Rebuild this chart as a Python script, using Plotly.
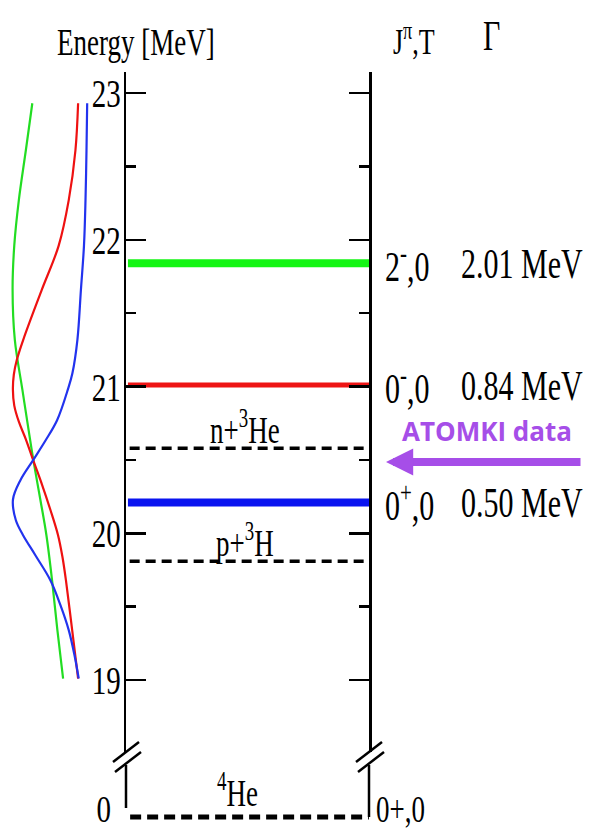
import plotly.graph_objects as go

W, H = 600, 831

# --- level scheme of 4He around the ATOMKI anomaly -------------------------
level_E = [21.84, 21.01, 20.21]          # MeV
level_Jpi = ["2<sup>-</sup>,0", "0<sup>-</sup>,0", "0<sup>+</sup>,0"]
level_Gamma = ["2.01 MeV", "0.84 MeV", "0.50 MeV"]
level_color = ["#14f514", "#ee1515", "#0a14f0"]
level_width = [8, 5, 8]

threshold_E = [20.58, 19.81]
threshold_label = ["n+<sup>3</sup>He", "p+<sup>3</sup>H"]

ground_E = [0.0]
ground_label = "<sup>4</sup>He"
ground_Jpi = "0+,0"

major_ticks = [19, 20, 21, 22, 23]
tick_text = ["19", "20", "21", "22", "23"]
minor_ticks = [19.5, 20.5, 21.5, 22.5]

# --- resonance profiles (arb. units) drawn sideways on the left ------------
green_E = [22.93, 22.61, 22.27, 21.96, 21.66, 21.32, 20.98, 20.67, 20.50, 20.23, 19.99, 19.68, 19.34, 19.01]
green_I = [0.737, 0.822, 0.914, 0.974, 0.996, 0.967, 0.868, 0.776, 0.724, 0.632, 0.553, 0.478, 0.408, 0.333]

red_E = [22.93, 22.61, 22.27, 21.96, 21.66, 21.32, 21.18, 21.08, 20.98, 20.87, 20.76, 20.64, 20.49,
         20.33, 20.16, 19.99, 19.84, 19.68, 19.34, 19.01]
red_I = [0.136, 0.171, 0.259, 0.391, 0.612, 0.855, 0.941, 0.980, 0.992, 0.974, 0.914, 0.822, 0.720,
         0.609, 0.500, 0.401, 0.342, 0.296, 0.214, 0.136]

blue_E = [22.93, 22.61, 22.27, 21.96, 21.66, 21.32, 21.09, 20.98, 20.77, 20.63, 20.50, 20.36, 20.23, 20.09,
          19.99, 19.85, 19.68, 19.51, 19.34, 19.17, 19.01]
blue_I = [0.017, 0.026, 0.039, 0.059, 0.099, 0.145, 0.211, 0.270, 0.412, 0.566, 0.724, 0.895, 0.991, 0.954,
          0.862, 0.697, 0.500, 0.368, 0.259, 0.184, 0.128]

SERIF = "Liberation Serif"
PURPLE = "#a64ee8"


def px_x(p):
    return p / W


def px_y(p):
    return 1 - p / H


fig = go.Figure()

# resonance profiles
for E, I, c in [(green_E, green_I, "#22dd22"), (red_E, red_I, "#ee1111"), (blue_E, blue_I, "#2233ee")]:
    fig.add_trace(go.Scatter(x=I, y=E, xaxis="x2", yaxis="y", mode="lines",
                             line=dict(color=c, width=2.2, shape="spline", smoothing=1.0),
                             hoverinfo="skip", showlegend=False))

# thresholds (dashed)
for E in threshold_E:
    fig.add_trace(go.Scatter(x=[0.015, 1.0], y=[E, E], xaxis="x", yaxis="y", mode="lines",
                             line=dict(color="black", width=3.5, dash="10px,6px"),
                             hoverinfo="skip", showlegend=False))

# resonant levels
for E, c, w in zip(level_E, level_color, level_width):
    fig.add_trace(go.Scatter(x=[0.008, 1.0], y=[E, E], xaxis="x", yaxis="y", mode="lines",
                             line=dict(color=c, width=w),
                             hoverinfo="skip", showlegend=False))

# ground state on the lower (broken) axis
fig.add_trace(go.Scatter(x=[0.017, 1.0], y=[ground_E[0], ground_E[0]], xaxis="x", yaxis="y2", mode="lines",
                         line=dict(color="black", width=5, dash="11px,6px"),
                         hoverinfo="skip", showlegend=False))

annotations = []

# right-hand labels: J^pi,T and width
for E, j, g in zip(level_E, level_Jpi, level_Gamma):
    annotations.append(dict(x=px_x(383), xref="paper", y=E, yref="y", text=j,
                            xanchor="left", yanchor="middle", showarrow=False,
                            font=dict(family=SERIF, size=30, color="black")))
    annotations.append(dict(x=px_x(459), xref="paper", y=E, yref="y", text=g,
                            xanchor="left", yanchor="middle", showarrow=False,
                            font=dict(family=SERIF, size=30, color="black")))

# threshold labels
for E, t in zip(threshold_E, threshold_label):
    annotations.append(dict(x=0.49, xref="x", y=E, yref="y", text=t,
                            xanchor="center", yanchor="bottom", yshift=2, showarrow=False,
                            font=dict(family=SERIF, size=27, color="black")))

annotations.append(dict(x=0.46, xref="x", y=ground_E[0], yref="y2", text=ground_label,
                        xanchor="center", yanchor="bottom", yshift=8, showarrow=False,
                        font=dict(family=SERIF, size=27, color="black")))
annotations.append(dict(x=px_x(374), xref="paper", y=ground_E[0], yref="y2", text=ground_Jpi,
                        xanchor="left", yanchor="middle", yshift=8, showarrow=False,
                        font=dict(family=SERIF, size=27, color="black")))

# headers
annotations.append(dict(x=px_x(136), xref="paper", y=px_y(42), yref="paper", text="Energy [MeV]",
                        xanchor="center", yanchor="middle", showarrow=False,
                        font=dict(family=SERIF, size=27, color="black")))
annotations.append(dict(x=px_x(414), xref="paper", y=px_y(40), yref="paper", text="J<sup>π</sup>,T",
                        xanchor="center", yanchor="middle", showarrow=False,
                        font=dict(family=SERIF, size=26, color="black")))
annotations.append(dict(x=px_x(491), xref="paper", y=px_y(36), yref="paper", text="Γ",
                        xanchor="center", yanchor="middle", showarrow=False,
                        font=dict(family=SERIF, size=30, color="black")))

# ATOMKI marker
annotations.append(dict(x=px_x(487), xref="paper", y=px_y(431), yref="paper", text="<b>ATOMKI data</b>",
                        xanchor="center", yanchor="middle", showarrow=False,
                        font=dict(family="Open Sans", size=26, color=PURPLE)))
annotations.append(dict(x=px_x(386), xref="paper", y=px_y(462), yref="paper", text="",
                        showarrow=True, axref="pixel", ayref="pixel", ax=196, ay=0,
                        arrowhead=2, arrowsize=0.68, arrowwidth=8, arrowcolor=PURPLE,
                        standoff=0, startstandoff=0))

# axis pieces below the break and the break marks
shapes = [
    dict(type="line", xref="paper", yref="paper", x0=px_x(126), x1=px_x(126), y0=px_y(765), y1=px_y(808),
         line=dict(color="black", width=2.5)),
    dict(type="line", xref="paper", yref="paper", x0=px_x(369), x1=px_x(369), y0=px_y(765), y1=px_y(817),
         line=dict(color="black", width=2.5)),
]
for dx in (0, 243):
    shapes.append(dict(type="line", xref="paper", yref="paper",
                       x0=px_x(113 + dx), y0=px_y(762), x1=px_x(139 + dx), y1=px_y(742),
                       line=dict(color="black", width=2.5)))
    shapes.append(dict(type="line", xref="paper", yref="paper",
                       x0=px_x(115 + dx), y0=px_y(772), x1=px_x(141 + dx), y1=px_y(752),
                       line=dict(color="black", width=2.5)))

# energy axis: 146.75 px per MeV, 23 MeV at y=93 px
top_px, bot_px = 72, 752
E_top = 23 + (93 - top_px) / 146.75
E_bot = 23 - (bot_px - 93) / 146.75

fig.update_layout(
    width=W, height=H, margin=dict(l=0, r=0, t=0, b=0, autoexpand=False),
    paper_bgcolor="white", plot_bgcolor="white",
    xaxis=dict(domain=[px_x(126), px_x(369)], range=[0, 1], visible=False, anchor="y", automargin=False),
    xaxis2=dict(domain=[px_x(10), px_x(90)], range=[1.03, -0.02], visible=False, anchor="y", automargin=False),
    yaxis=dict(domain=[px_y(bot_px), px_y(top_px)], range=[E_bot, E_top], anchor="x", automargin=False,
               showline=True, linecolor="black", linewidth=2.5, mirror="ticks",
               ticks="inside", ticklen=20, tickwidth=2.5, tickcolor="black",
               tickvals=major_ticks, ticktext=tick_text, ticklabelstandoff=-3,
               minor=dict(ticks="inside", ticklen=10, tickwidth=2.5, tickcolor="black",
                          tickvals=minor_ticks),
               showgrid=False, zeroline=False,
               tickfont=dict(family=SERIF, size=29, color="black")),
    yaxis2=dict(domain=[0, px_y(765)], range=[-0.25, 0.93], anchor="x", automargin=False,
                showline=False, ticks="", tickvals=[0], ticktext=["0"], ticklabelstandoff=14,
                ticklabelshift=-8, ticklabeloverflow="allow",
                showgrid=False, zeroline=False,
                tickfont=dict(family=SERIF, size=29, color="black")),
    annotations=annotations, shapes=shapes, showlegend=False,
)

# Times-style text in this scheme is set tall and narrow: stretch serif labels vertically,
# easing the stretch for labels that sit close to the bottom edge of the page
stretch_js = """
var gd = document.getElementById('{plot_id}');
var svgR = gd.querySelector('.main-svg').getBoundingClientRect();
var S = 1.4;
gd.querySelectorAll('text').forEach(function(t){
  var ff = t.style.fontFamily || '';
  if (ff.indexOf('Liberation Serif') < 0) return;
  var r = t.getBoundingClientRect();
  var half = r.height / 2, mid = r.top + half;
  var s = S;
  if (half > 0) {
    s = Math.min(S, (svgR.top + svgR.height - 1 - mid) / half, (mid - svgR.top - 1) / half);
    s = Math.max(s, 1);
  }
  var b = t.getBBox();
  var cy = b.y + b.height / 2;
  var tr = t.getAttribute('transform') || '';
  t.setAttribute('transform', tr + ' translate(0,' + cy + ') scale(1,' + s + ') translate(0,' + (-cy) + ')');
});
"""

fig.write_html("out.html", post_script=stretch_js, config={"staticPlot": True})
